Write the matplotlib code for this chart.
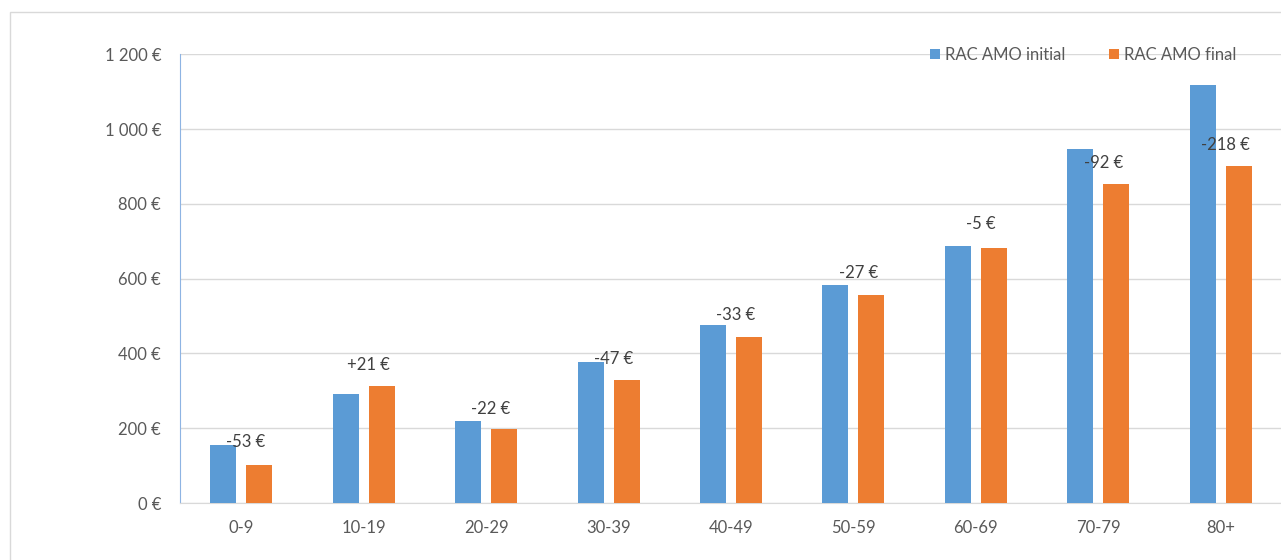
import matplotlib
matplotlib.use('Agg')
import matplotlib.pyplot as plt
import matplotlib.patches as mpatches
import numpy as np

plt.rcParams['font.family'] = ['Lato', 'DejaVu Sans']

age_groups = ['0-9', '10-19', '20-29', '30-39', '40-49', '50-59', '60-69', '70-79', '80+']
rac_initial = [154, 291, 219, 377, 476, 584, 688, 946, 1118]
rac_final = [101, 312, 197, 330, 443, 557, 683, 854, 900]
# vertical anchor (in euros) of each difference label
diff_label_y = [163, 369, 252, 385, 502, 615, 745, 909, 957]

BLUE = '#5B9BD5'
ORANGE = '#ED7D31'
TXT = '#595959'
GRID = '#D9D9D9'

fig = plt.figure(figsize=(12.81, 5.6), dpi=100)
# light frame round the chart area
fig.patches.append(mpatches.Rectangle((10 / 1281, -0.1), 1.2, 1 - 12 / 560 + 0.1,
                                      transform=fig.transFigure, fill=False,
                                      edgecolor=GRID, linewidth=1.0))

ax = fig.add_axes([180 / 1281, 1 - 503 / 560, 1102 / 1281, (503 - 54.3) / 560])
x = np.arange(len(age_groups))
w = 0.212
off = 0.147
ax.bar(x - off, rac_initial, w, color=BLUE, label='RAC AMO initial', zorder=3)
ax.bar(x + off, rac_final, w, color=ORANGE, label='RAC AMO final', zorder=3)

for i, (a, b) in enumerate(zip(rac_initial, rac_final)):
    d = b - a
    ax.text(i + 0.04, diff_label_y[i], f'{d:+d} €', ha='center', va='center',
            fontsize=12, color='#404040', zorder=4)

ax.set_xlim(-0.5, len(age_groups) - 0.5)
ax.set_ylim(0, 1200)
ax.set_yticks(np.arange(0, 1201, 200))
ax.set_yticklabels([f'{v:,} €'.replace(',', ' ') for v in range(0, 1201, 200)])
ax.set_xticks(x)
ax.set_xticklabels(age_groups)
ax.tick_params(axis='both', length=0, colors=TXT, labelsize=12)
ax.tick_params(axis='y', pad=13.5)
ax.tick_params(axis='x', pad=12)
ax.yaxis.grid(True, color=GRID, linewidth=1.0, zorder=0)
for s in ['top', 'right']:
    ax.spines[s].set_visible(False)
ax.spines['left'].set_color('#8EB4E3')
ax.spines['bottom'].set_color(GRID)

ax.legend(loc='upper right', bbox_to_anchor=(0.972, 1.05), ncol=2, frameon=False,
          fontsize=12, labelcolor=TXT, handlelength=0.6, handleheight=0.6,
          handletextpad=0.3, columnspacing=2.6)

fig.savefig('out.png', dpi=100)
